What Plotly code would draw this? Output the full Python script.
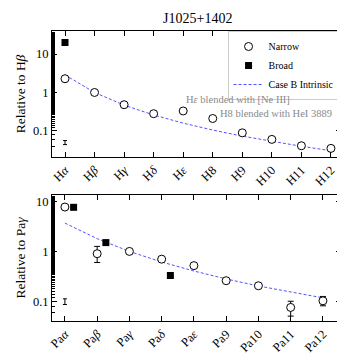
import numpy as np
import plotly.graph_objects as go
from plotly.subplots import make_subplots

# ── Data ──────────────────────────────────────────────────────────────────────

balmer_labels = ["H<i>α</i>", "H<i>β</i>", "H<i>γ</i>", "H<i>δ</i>", "H<i>ε</i>",
                 "H8", "H9", "H10", "H11", "H12"]
balmer_narrow = [2.28, 1.0, 0.48, 0.28, 0.33, 0.21, 0.089, 0.060, 0.041, 0.035]
balmer_broad_idx = [0]
balmer_broad = [20.0]
balmer_caseb = [2.86, 1.0, 0.468, 0.259, 0.159, 0.105, 0.0731, 0.0530, 0.0397, 0.0305]
balmer_rep_err = [0.05]
balmer_rep_err_size = [0.006]

paschen_labels = ["Pa<i>α</i>", "Pa<i>β</i>", "Pa<i>γ</i>", "Pa<i>δ</i>", "Pa<i>ε</i>",
                  "Pa9", "Pa10", "Pa11", "Pa12"]
paschen_narrow = [7.7, 0.90, 1.0, 0.70, 0.52, 0.26, 0.206, 0.076, 0.103]
paschen_err_plus = [0, 0.36, 0, 0, 0, 0, 0, 0.025, 0.023]
paschen_err_minus = [0, 0.30, 0, 0, 0, 0, 0, 0.025, 0.021]
paschen_broad_idx = [0, 1, 3]
paschen_broad = [7.6, 1.5, 0.33]
paschen_caseb = [3.68, 1.80, 1.0, 0.615, 0.406, 0.282, 0.204, 0.153, 0.118]
paschen_rep_err = [0.10]
paschen_rep_err_size = [0.013]

BROAD_SHIFT = 0.27
SERIF = "Liberation Serif, Times New Roman, serif"
CASEB = "rgba(40,40,255,0.8)"
DASH = "3px,2px"

fig = make_subplots(rows=2, cols=1, vertical_spacing=0.131)

# ── Top panel: Balmer ─────────────────────────────────────────────────────────
bx = np.arange(len(balmer_labels))
fig.add_scatter(x=bx, y=balmer_caseb, mode="lines", name="Case B Intrinsic",
                line=dict(color=CASEB, width=1, dash=DASH), row=1, col=1,
                legendrank=3)
fig.add_scatter(x=bx, y=balmer_narrow, mode="markers", name="Narrow",
                marker=dict(symbol="circle", size=8, color="white",
                            line=dict(color="black", width=1)), row=1, col=1,
                legendrank=1)
fig.add_scatter(x=bx[balmer_broad_idx], y=balmer_broad, mode="markers", name="Broad",
                marker=dict(symbol="square", size=7, color="black"), row=1, col=1,
                legendrank=2)
fig.add_scatter(x=[0], y=balmer_rep_err, mode="markers", showlegend=False,
                marker=dict(size=1, color="black", opacity=0),
                error_y=dict(type="data", array=balmer_rep_err_size, color="black",
                             thickness=1, width=2), row=1, col=1)

# ── Bottom panel: Paschen ─────────────────────────────────────────────────────
px_ = np.arange(len(paschen_labels))
fig.add_scatter(x=px_, y=paschen_caseb, mode="lines", showlegend=False,
                line=dict(color=CASEB, width=1, dash=DASH), row=2, col=1)
fig.add_scatter(x=px_, y=paschen_narrow, mode="markers", showlegend=False,
                marker=dict(symbol="circle", size=8, color="white",
                            line=dict(color="black", width=1)),
                error_y=dict(type="data", array=paschen_err_plus,
                             arrayminus=paschen_err_minus, color="black",
                             thickness=1, width=3), row=2, col=1)
fig.add_scatter(x=px_[paschen_broad_idx] + BROAD_SHIFT, y=paschen_broad, mode="markers",
                showlegend=False, marker=dict(symbol="square", size=7, color="black"),
                row=2, col=1)
fig.add_scatter(x=[0], y=paschen_rep_err, mode="markers", showlegend=False,
                marker=dict(size=1, color="black", opacity=0),
                error_y=dict(type="data", array=paschen_rep_err_size, color="black",
                             thickness=1, width=2), row=2, col=1)

# ── Annotations ───────────────────────────────────────────────────────────────
for txt, x, y in [("H<i>ε</i> blended with [Ne III]", 5.84, -0.175),
                  ("H8 blended with HeI 3889", 7.15, -0.55)]:
    fig.add_annotation(x=x, y=y, xref="x", yref="y", text=txt, showarrow=False,
                       font=dict(family=SERIF, size=10.5, color="#8a8a8a"))

# ── Axes ──────────────────────────────────────────────────────────────────────
axis_common = dict(showline=True, linecolor="black", linewidth=1, mirror="ticks",
                   ticks="inside", tickcolor="black", showgrid=False, zeroline=False,
                   automargin=False)
xfont = dict(family=SERIF, size=12.5, color="black")
yfont = dict(family=SERIF, size=12.5, color="black")

fig.update_xaxes(tickmode="array", tickvals=bx, ticktext=balmer_labels, tickangle=-45,
                 range=[-0.44, 9.34], ticklen=5, tickfont=xfont, row=1, col=1,
                 **axis_common)
fig.update_xaxes(tickmode="array", tickvals=px_, ticktext=paschen_labels, tickangle=-45,
                 range=[-0.40, 8.56], ticklen=5, tickfont=xfont, row=2, col=1,
                 **axis_common)

minor = dict(ticks="inside", ticklen=2.5, tickcolor="black", showgrid=False)
fig.update_yaxes(type="log", range=[-1.68, 1.6], tickvals=[0.1, 1, 10],
                 ticktext=["0.1", "1", "10"], ticklen=5, minor=minor, tickfont=yfont,
                 title=dict(text="Relative to H<i>β</i>", standoff=4,
                            font=dict(family=SERIF, size=13.5, color="black")),
                 row=1, col=1, **axis_common)
fig.update_yaxes(type="log", range=[-1.39, 1.127], tickvals=[0.1, 1, 10],
                 ticktext=["0.1", "1", "10"], ticklen=5, minor=minor, tickfont=yfont,
                 title=dict(text="Relative to Pa<i>γ</i>", standoff=4,
                            font=dict(family=SERIF, size=13.5, color="black")),
                 row=2, col=1, **axis_common)

fig.update_layout(
    width=345, height=355,
    margin=dict(l=44, r=12, t=23, b=42),
    paper_bgcolor="white", plot_bgcolor="white",
    font=dict(family=SERIF, color="black"),
    title=dict(text="J1025+1402", x=0.55, xanchor="center", y=0.985, yanchor="top",
               font=dict(family=SERIF, size=14, color="black")),
    legend=dict(x=0.995, y=1.0, xanchor="right", yanchor="top",
                bgcolor="white", bordercolor="#cccccc", borderwidth=1,
                font=dict(family=SERIF, size=10, color="black"),
                itemwidth=30, tracegroupgap=0),
    showlegend=True,
)

fig.write_html("out.html")
